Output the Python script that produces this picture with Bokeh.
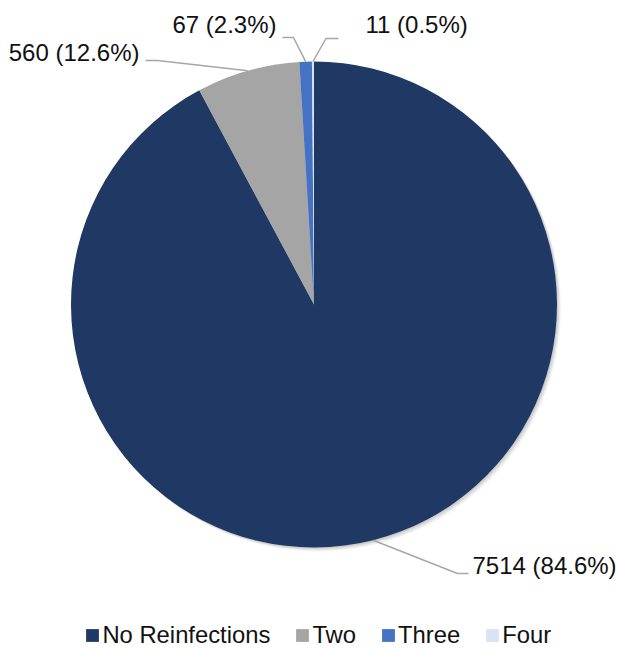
import numpy as np
from bokeh.plotting import figure
from bokeh.models import ColumnDataSource, Range1d, Legend, LegendItem
from bokeh.core.properties import value
from bokeh.embed import file_html
from bokeh.resources import INLINE

# ---- data ----
categories = ["No Reinfections", "Two", "Three", "Four"]
counts = [7514, 560, 67, 11]
percent_labels = ["84.6%", "12.6%", "2.3%", "0.5%"]
colors = ["#203864", "#A5A5A5", "#4472C4", "#DAE3F3"]

# ---- layout (page pixel coordinates, y downwards) ----
W, H = 617, 649
CX, CY, R = 313.5, 304.0, 243.0
# label anchor (x, y, align) and leader elbow/end points, per slice
label_pos = [(472, 565, "left"), (139, 52, "right"), (172, 24, "left"), (365, 24, "left")]
leader_elbow = [(457, 573), (157, 60), (293, 37), (325.5, 38)]
leader_end = [(468, 573), (145, 60), (282, 37), (338, 38)]
FONT = "Liberation Sans"


def Y(py):
    return H - py


p = figure(width=W, height=H, output_backend="svg", toolbar_location=None,
           x_range=Range1d(0, W), y_range=Range1d(0, H), min_border=0)
p.axis.visible = False
p.grid.visible = False
p.outline_line_color = None
p.background_fill_color = "white"
p.border_fill_color = "white"

counts_arr = np.array(counts, dtype=float)
frac = counts_arr / counts_arr.sum()
cum = np.concatenate([[0.0], np.cumsum(frac)])
start = np.pi / 2 - 2 * np.pi * cum[:-1]
end = np.pi / 2 - 2 * np.pi * cum[1:]
mid = (start + end) / 2

# soft shadow
for off, a in [(4, 0.04), (3, 0.05), (2, 0.06), (1, 0.07)]:
    p.circle(x=[CX + off], y=[Y(CY) - off], radius=R, fill_color="black",
             fill_alpha=a, line_color=None)

src = ColumnDataSource(dict(cat=categories, start=start, end=end, color=colors))
r = p.wedge(x=CX, y=Y(CY), radius=R, start_angle="start", end_angle="end",
            direction="clock", fill_color="color", line_color=None, source=src)

# leader lines and labels
lx, ly, tx, ty, ta, txt = [], [], [], [], [], []
for i in range(len(categories)):
    sx = CX + R * np.cos(mid[i])
    sy = Y(CY) + R * np.sin(mid[i])
    ex, ey = leader_elbow[i]
    fx, fy = leader_end[i]
    lx.append([sx, ex, fx])
    ly.append([sy, Y(ey), Y(fy)])
    x, y, al = label_pos[i]
    txt.append(f"{counts[i]} ({percent_labels[i]})")
    tx.append(x)
    ty.append(Y(y))
    ta.append(al)

p.multi_line(xs=lx, ys=ly, line_color="#A6A6A6", line_width=1.5)
lab_src = ColumnDataSource(dict(x=tx, y=ty, t=txt, a=ta))
p.text(x="x", y="y", text="t", text_align="a", text_baseline="middle",
       text_font=value(FONT), text_font_size="24px", text_color="#111111",
       source=lab_src)

items = [LegendItem(label=c, renderers=[r], index=i) for i, c in enumerate(categories)]
legend = Legend(items=items, orientation="horizontal", location=(84.4, 0),
                glyph_width=16, glyph_height=16, label_standoff=2, spacing=24,
                padding=0, margin=0, border_line_color=None,
                background_fill_alpha=0, label_text_font=FONT,
                label_text_font_size="23.8px", label_text_color="#111111")
p.add_layout(legend, "center")

open("out.html", "w").write(file_html(p, INLINE))
